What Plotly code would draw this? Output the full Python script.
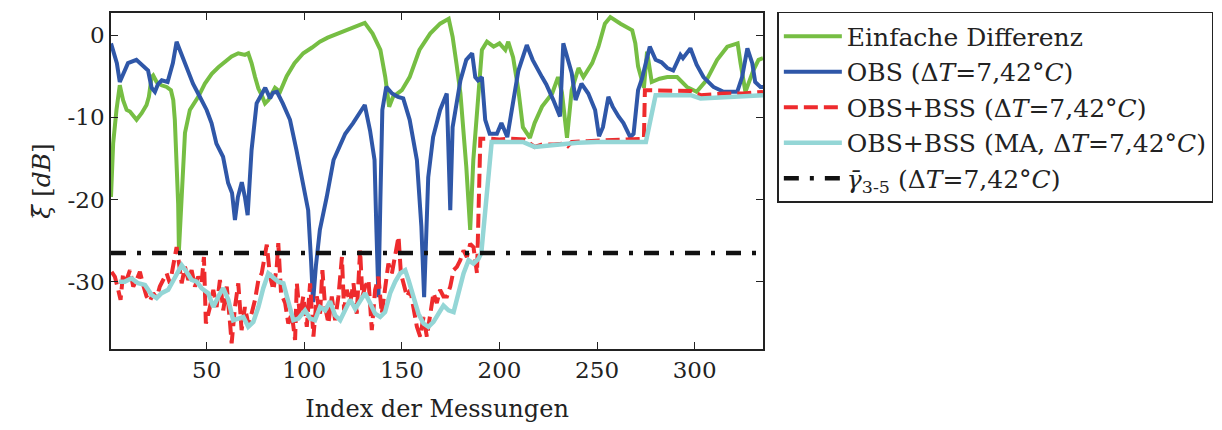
import plotly.graph_objects as go

# ---------------- data ----------------
green_x = [1, 2.1, 3.8, 5.5, 7.2, 9, 10.7, 14.1, 16.7, 19.2, 20.4, 21.8, 22.6, 24.4, 26.9, 29.5, 31.7,
           32.9, 33.7, 34.6, 35.4, 35.8, 38, 38.9, 41.4, 43.1, 45.7, 49.1, 52.6, 56, 59.4, 62.8, 66.2,
           69.6, 71.3, 73, 74.8, 76.5, 78.2, 79.9, 81.6, 84.2, 85, 87.6, 91, 95, 99.5, 104, 108, 112,
           117, 121, 125, 128, 131, 135, 139, 141.5, 143.5, 145.5, 148, 150, 154, 159, 164.5, 169.6,
           174, 176, 178, 180, 183, 185, 186.6, 188.5, 191, 193.6, 197, 200, 203, 204.5, 207, 209.7,
           212, 215.6, 218, 221.8, 224, 227, 230, 232, 234.6, 237, 240.5, 243, 247.5, 250.7, 254,
           256.8, 262, 268, 269.6, 271, 274, 275.6, 278, 282, 286, 291, 296, 301, 306, 311.5, 316.7,
           322, 323.5, 326, 330, 332.7, 335]
green_y = [-19.7, -13.2, -9.1, -6.1, -7.9, -9.1, -9.3, -10.3, -9.5, -8.5, -7.5, -5.1, -4.9, -5.7, -6.1,
           -6.3, -6.7, -7.9, -10.3, -15.2, -20.5, -26.2, -17.2, -11.9, -9.1, -8.5, -7.5, -5.9, -4.7,
           -3.9, -3.2, -2.6, -2.2, -2.4, -2.2, -3.4, -5.1, -6.5, -7.3, -8.3, -7.9, -6.7, -6.4, -6.9,
           -5.0, -3.4, -2.2, -1.5, -0.8, -0.3, 0.2, 0.6, 1.0, 1.2, 1.5, 0.2, -1.8, -5.1, -8.7, -7.5,
           -7.0, -6.7, -5.1, -1.8, 0.2, 1.4, 2.0, -0.2, -3.5, -7.1, -16.0, -23.7, -15.2, -9.1, -1.8,
           -0.8, -1.4, -1.0, -1.8, -0.8, -2.7, -6.7, -11.2, -12.5, -10.7, -8.7, -8.0, -7.1, -5.1,
           -7.0, -12.5, -6.7, -4.0, -5.1, -3.4, -1.4, 1.4, 2.2, 1.4, 0.6, -1.0, -3.8, -6.4, -2.0,
           -5.7, -5.3, -5.1, -5.1, -6.3, -6.9, -5.5, -3.0, -1.4, -1.0, -3.4, -6.9, -4.3, -3.0, -2.8]

blue_x = [1, 4, 5.5, 8, 9.7, 14, 17, 20, 21.8, 23.5, 25, 27, 30, 32.7, 34.6, 37, 40.5, 43, 46.5, 50,
          52.5, 55, 58.4, 61, 63, 64.5, 66, 68, 69.6, 71, 73, 75.6, 80, 82.5, 84, 86, 89, 92.7, 96,
          99.5, 102, 103.5, 104.5, 106, 108, 111.5, 115, 118, 121, 125, 129.5, 131, 133.7, 136, 137,
          138, 139, 140, 142, 145, 148, 150.7, 154, 157.7, 160, 161.4, 163.5, 166, 169.6, 173, 174.8,
          176, 180, 183, 186, 187.6, 189, 191, 192.7, 195, 198.7, 201, 204, 206.4, 209.7, 214, 217,
          221.8, 224, 227.6, 231, 232.7, 237, 239, 242, 245.5, 249, 251, 253, 255.8, 258, 261, 263.5,
          267, 268.7, 271, 273, 277, 280, 283, 286, 289, 292.7, 294, 297.8, 301, 304.5, 309.6, 314.8,
          321.8, 324.3, 327, 329.5, 331, 333.7, 335]
blue_y = [-1.0, -3.4, -5.7, -4.3, -3.4, -3.0, -3.6, -4.3, -6.4, -6.9, -6.0, -5.5, -5.7, -3.4, -0.8,
          -2.2, -4.5, -5.9, -7.5, -9.1, -10.7, -13.2, -14.8, -18.0, -19.2, -22.5, -19.7, -17.9, -19.7,
          -21.9, -14.0, -8.3, -6.4, -7.7, -7.0, -6.9, -8.3, -10.3, -14.0, -18.0, -21.3, -27.5, -32.5,
          -28.0, -23.7, -19.7, -15.2, -13.6, -12.0, -10.7, -9.1, -8.5, -11.6, -15.2, -24.0, -31.9,
          -20.0, -9.1, -6.3, -7.1, -7.5, -7.7, -10.3, -15.2, -23.3, -31.9, -17.3, -12.4, -9.1, -7.1,
          -21.3, -11.2, -5.5, -3.0, -2.2, -5.1, -5.5, -5.1, -10.3, -12.0, -12.0, -10.7, -12.4, -9.1,
          -4.3, -1.2, -3.0, -5.1, -6.0, -7.9, -9.9, -1.0, -4.6, -7.9, -5.9, -7.1, -9.1, -12.3, -11.2,
          -7.5, -8.7, -9.9, -10.7, -12.4, -12.0, -6.7, -5.3, -1.4, -3.0, -3.3, -4.0, -4.3, -2.4, -2.8,
          -1.6, -3.6, -5.1, -6.3, -6.9, -6.9, -5.1, -1.6, -3.4, -5.7, -6.3, -6.3]

red_x = [1.3, 3, 4.7, 5.9, 7.2, 9, 10.7, 12.4, 14.1, 15.8, 17.5, 19.2, 20.9, 22.6, 24.4, 26, 27.7,
         29.5, 31.2, 32.9, 34.6, 35.8, 37.2, 38.9, 40.6, 42.3, 44, 45.7, 47.4, 48.6, 49.6, 51.7, 53.4,
         55.1, 56.8, 58.5, 60.3, 62, 62.8, 64.5, 66.2, 67.9, 69.6, 71.3, 73, 74.8, 76.5, 78.2, 79.9,
         80.8, 82.5, 84.2, 85.9, 86.7, 88.1, 90.2, 91.8, 93.6, 95.3, 96.2, 97.8, 99.5, 101.3, 103,
         104.7, 106.4, 108.1, 109.3, 110.7, 112.4, 114.1, 115.8, 117.5, 119.3, 120.4, 121.8, 123.5,
         125.2, 126.9, 128.6, 129.8, 131.2, 132.9, 134.6, 136.3, 138, 139.7, 141.4, 143.1, 144.9,
         146.6, 148.3, 149.5, 150.8, 152.6, 154.3, 156, 157.7, 159.4, 161.1, 162.8, 164.5, 166.2,
         167.9, 169.6, 171.3, 173.1, 174.8, 176.5, 178.2, 179.9, 181.6, 183.3, 185, 186.7, 188.5,
         189.5, 190.2, 195, 200, 205, 210, 213, 218, 222, 228, 233, 235, 237, 245, 255, 265, 274,
         274.5, 285, 298, 303, 315, 325, 335]
red_y = [-28.8, -29.4, -31.0, -32.2, -29.0, -29.8, -28.6, -30.6, -29.8, -28.8, -30.4, -31.8, -32.4,
         -31.4, -32.0, -30.6, -29.8, -29.0, -30.2, -27.8, -25.8, -27.7, -30.2, -28.2, -29.8, -28.6,
         -30.6, -29.4, -30.2, -27.0, -35.1, -33.1, -31.0, -33.1, -29.8, -33.5, -30.6, -35.1, -37.5,
         -33.1, -30.2, -35.9, -33.1, -35.1, -33.9, -32.2, -29.8, -29.0, -26.2, -25.5, -29.4, -31.0,
         -28.2, -25.3, -31.4, -32.6, -35.1, -33.9, -37.1, -30.2, -34.3, -31.8, -35.5, -30.2, -36.7,
         -31.8, -33.9, -28.6, -33.1, -35.1, -31.8, -34.7, -31.8, -27.0, -33.5, -31.0, -32.6, -30.2,
         -33.9, -26.2, -31.8, -30.6, -29.8, -35.9, -31.0, -29.4, -33.9, -31.0, -27.8, -29.0, -26.6,
         -24.5, -29.0, -30.2, -31.8, -31.0, -33.1, -35.5, -36.7, -34.3, -36.7, -33.9, -31.4, -32.6,
         -31.0, -31.8, -31.8, -30.6, -28.6, -28.2, -27.4, -26.2, -27.0, -25.4, -25.8, -29.0, -20.0,
         -12.6, -12.6, -12.7, -12.6, -12.6, -12.7, -13.6, -13.3, -13.3, -13.2, -13.5, -13.0, -12.9,
         -12.8, -12.7, -12.6, -6.7, -6.7, -6.8, -7.3, -7.1, -7.1, -6.9]

cyan_x = [5, 8.1, 11.5, 14.9, 18.4, 21.8, 24.4, 26.9, 30.3, 33.7, 37.2, 39.7, 42.3, 44.9, 47.4, 50.8,
          53.4, 56, 58.5, 61.1, 63.6, 66.2, 68.8, 71.3, 73.9, 76.5, 79, 81.6, 84.2, 86.7, 89.3, 91.8,
          94.4, 97, 100.4, 103, 105.5, 108.1, 110.7, 113.2, 115.8, 118.4, 121, 123.5, 126.1, 128.6,
          131.2, 133.7, 136.3, 138.9, 141.4, 144, 146.6, 149.1, 151.7, 153.4, 156, 158.5, 161.1,
          163.6, 166.2, 168.8, 171.3, 173.9, 176.5, 179, 181.6, 184.2, 186.7, 189.3, 190.7, 196, 212,
          218, 225, 233, 240, 250, 260, 275, 280, 298, 303, 315, 325, 335]
cyan_y = [-30.0, -30.0, -29.6, -30.2, -30.4, -31.6, -32.0, -31.4, -31.0, -29.4, -28.0, -28.8, -29.8,
          -30.0, -30.8, -31.4, -33.1, -31.8, -30.8, -32.2, -34.7, -34.5, -34.3, -35.5, -34.9, -33.1,
          -30.8, -29.0, -29.6, -30.0, -30.2, -32.6, -34.7, -34.5, -33.5, -34.5, -34.7, -33.1, -33.5,
          -32.4, -34.1, -34.7, -33.3, -32.2, -33.3, -32.4, -31.4, -32.6, -33.9, -34.3, -33.7, -31.4,
          -30.0, -29.0, -28.6, -29.8, -31.8, -33.9, -35.1, -35.5, -34.9, -33.9, -32.9, -33.5, -33.7,
          -31.4, -29.0, -27.4, -27.8, -27.2, -26.5, -13.0, -13.0, -13.6, -13.4, -13.3, -13.1, -13.0,
          -13.0, -13.0, -7.3, -7.3, -7.7, -7.5, -7.4, -7.3]

gamma_x = [1, 335]
gamma_y = [-26.5, -26.5]

names = [
    "Einfache Differenz",
    "OBS (Δ<i>T</i>=7,42°<i>C</i>)",
    "OBS+BSS (Δ<i>T</i>=7,42°<i>C</i>)",
    "OBS+BSS (MA, Δ<i>T</i>=7,42°<i>C</i>)",
    "<i>γ̄</i><sub>3-5</sub> (Δ<i>T</i>=7,42°<i>C</i>)",
]

x_ticks = [50, 100, 150, 200, 250, 300]
y_ticks = [0, -10, -20, -30]
y_ticktext = ["0", "-10", "-20", "-30"]

# ---------------- figure ----------------
# The page body has an 8px default margin, so the figure is 8px smaller and the
# margins are shifted by that amount to land the plot area where the reference has it.
SERIF = "DejaVu Serif, Liberation Serif, serif"
fig = go.Figure()
fig.add_trace(go.Scatter(x=green_x, y=green_y, mode="lines", name=names[0],
                         line=dict(color="#76BE43", width=4)))
fig.add_trace(go.Scatter(x=blue_x, y=blue_y, mode="lines", name=names[1],
                         line=dict(color="#2F57A8", width=4)))
fig.add_trace(go.Scatter(x=red_x, y=red_y, mode="lines", name=names[2],
                         line=dict(color="#EE2B2D", width=4, dash="14px,6px")))
fig.add_trace(go.Scatter(x=cyan_x, y=cyan_y, mode="lines", name=names[3],
                         line=dict(color="#94D6D6", width=4.5)))
fig.add_trace(go.Scatter(x=gamma_x, y=gamma_y, mode="lines", name=names[4],
                         line=dict(color="#111111", width=4.5, dash="15px,11px,4px,11px")))

fig.update_layout(
    width=1214, height=422,
    margin=dict(l=103, r=459, t=5, b=81, autoexpand=False),
    paper_bgcolor="white", plot_bgcolor="white",
    font=dict(family=SERIF, color="#222222", size=23),
    showlegend=True,
    legend=dict(x=1.022, y=1.003, xanchor="left", yanchor="top",
                bordercolor="#222222", borderwidth=1.5, bgcolor="white",
                font=dict(family=SERIF, size=25, color="#222222"),
                itemwidth=58, tracegroupgap=0),
    xaxis=dict(range=[1, 335], tickvals=x_ticks, ticks="inside", ticklen=7,
               tickcolor="#222222", showline=True, linecolor="#222222", linewidth=1.5,
               mirror="ticks", showgrid=False, zeroline=False, automargin=False,
               tickfont=dict(size=23),
               title=dict(text="Index der Messungen", font=dict(size=24), standoff=18)),
    yaxis=dict(range=[-38.2, 2.7], tickvals=y_ticks, ticktext=y_ticktext, ticks="inside",
               ticklen=7, tickcolor="#222222", showline=True, linecolor="#222222",
               linewidth=1.5, mirror="ticks", showgrid=False, zeroline=False, automargin=False,
               tickfont=dict(size=23),
               title=dict(text="\u203E<i>ξ</i> [<i>dB</i>]".replace("\u203E<i>ξ</i>", "<i>ξ\u0305</i>"),
                          font=dict(size=25), standoff=10)),
)

fig.write_html("out.html")
